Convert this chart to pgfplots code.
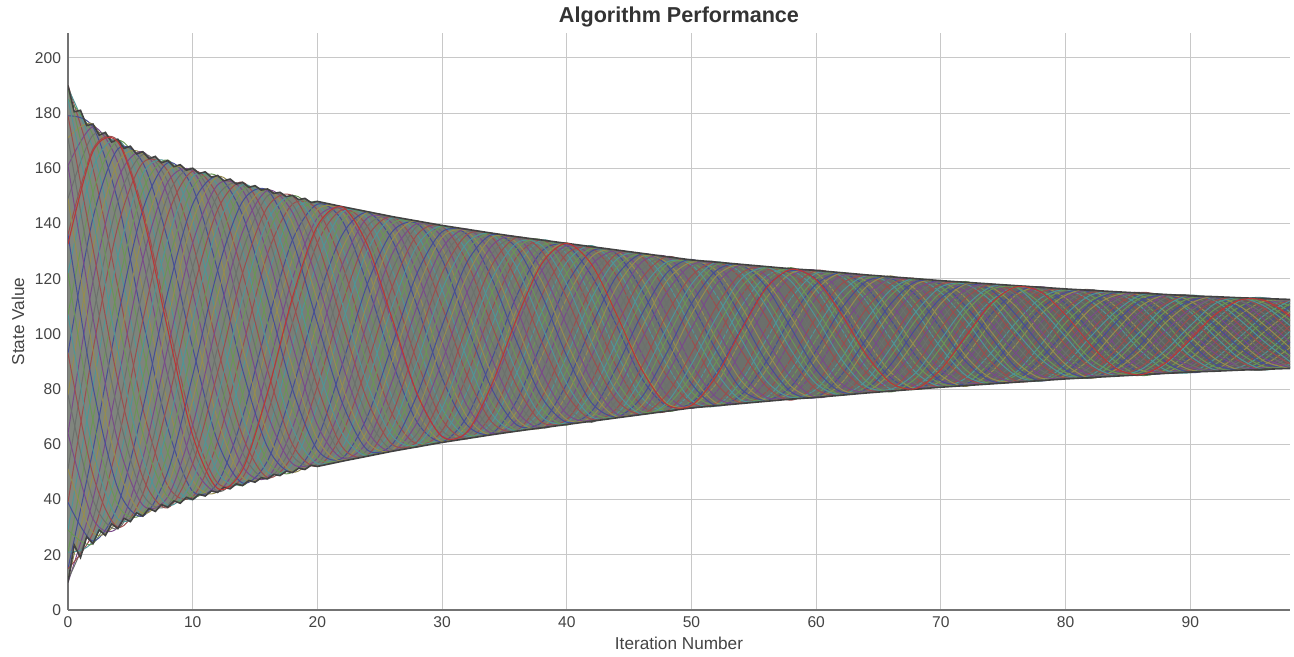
\documentclass[border=0pt]{standalone}
\usepackage{fontspec}
\setmainfont{Liberation Sans}
\usepackage{pgfplots}
\pgfplotsset{compat=1.18}
\usepackage{pgfplotstable}
\usepgfplotslibrary{fillbetween}

\definecolor{cA}{RGB}{155,78,78}
\definecolor{cB}{RGB}{78,150,150}
\definecolor{cC}{RGB}{105,150,85}
\definecolor{cD}{RGB}{70,78,150}
\definecolor{cE}{RGB}{150,140,78}
\definecolor{cF}{RGB}{122,75,138}
\definecolor{cG}{RGB}{108,112,108}
\definecolor{bandL}{RGB}{128,134,126}
\definecolor{bandR}{RGB}{92,94,92}
\definecolor{edge}{RGB}{66,66,66}
\definecolor{redline}{RGB}{185,55,55}
\definecolor{gridc}{RGB}{200,200,200}
\definecolor{txt}{RGB}{68,68,68}

\pgfplotstableread{
t y0 y1 y2 y3 y4 y5 y6 y7 y8 y9 y10 y11 y12 y13 y14 y15 y16 y17 y18 y19 y20 y21 y22 y23 y24 y25 y26 y27 y28 y29 y30 y31 y32 y33 y34 y35 y36 y37
0 190 189 185 179 171 161 149 136 122 107 93 78 64 51 39 29 21 15 11 10 11 15 21 29 39 51 64 78 93 107 122 136 149 161 171 179 185 189
2 160 167 172 175 176 175 172 167 160 151 142 131 119 106 94 81 69 58 49 40 33 28 25 24 25 28 33 40 49 58 69 81 94 106 119 131 142 151
4 117 128 139 148 156 162 167 170 170.5 170 167 162 156 148 139 128 117 106 94 83 72 61 52 44 38 33 30 29.5 30 33 38 44 52 61 72 83 94 106
6 73 84 95 105 116 127 136 145 152 158 162 165 166 165 162 158 152 145 136 127 116 105 95 84 73 64 55 48 42 38 35 34 35 38 42 48 55 64
8 45 50 57 66 75 85 95 105 115 125 134 143 150 155 159 162 163 162 159 155 150 143 134 125 115 105 95 85 75 66 57 50 45 41 38 37 38 41
10 41 40 41 43 47 53 59 67 76 85 95 105 115 124 133 141 147 153 157 159 160 159 157 153 147 141 133 124 115 105 95 85 76 67 59 53 47 43
12 61 55 50 46 43 43 43 46 50 55 61 69 77 86 95 105 114 123 131 139 145 150 154 157 157 157 154 150 145 139 131 123 114 105 95 86 77 69
14 95 87 78 70 63 57 52 48 46 45 46 48 52 57 63 70 78 87 95 105 113 122 130 137 143 148 152 154 155 154 152 148 143 137 130 122 113 105
16 129 121 113 104 96 87 79 71 64 59 54 50 48 47.5 48 50 54 59 64 71 79 87 96 104 113 121 129 136 141 146 150 152 152.5 152 150 146 141 136
18 147 144 140 134 127 120 112 104 96 88 80 73 66 60 56 53 50 50 50 53 56 60 66 73 80 88 96 104 112 120 127 134 140 144 147 150 150 150
20 145 147 148 147 145 142 138 133 126 119 112 104 96 88 81 74 67 62 58 55 53 52 53 55 58 62 67 74 81 88 96 104 112 119 126 133 138 142
22 125 131 136 141 144 145 146 145 144 141 136 131 125 119 111 104 96 89 81 75 69 64 59 56 55 54 55 56 59 64 69 75 81 89 96 104 111 119
24 96 104 111 118 124 130 135 139 142 144 144 144 142 139 135 130 124 118 111 104 96 89 82 76 70 65 61 58 56 56 56 58 61 65 70 76 82 89
26 71 77 83 90 96 104 110 117 123 129 134 137 140 142 142.5 142 140 137 134 129 123 117 110 104 96 90 83 77 71 66 63 60 58 57.5 58 60 63 66
28 60 61 64 68 72 78 84 90 97 103 110 116 122 128 132 136 139 140 141 140 139 136 132 128 122 116 110 103 97 90 84 78 72 68 64 61 60 59
30 65 63 61 61 61 63 65 69 73 78 84 90 97 103 110 116 122 127 131 135 137 139 139 139 137 135 131 127 122 116 110 103 97 90 84 78 73 69
32 85 79 74 70 67 64 63 62 63 64 67 70 74 79 85 91 97 103 109 115 121 126 130 133 136 137 138 137 136 133 130 126 121 115 109 103 97 91
34 109 103 97 91 85 80 75 71 68 65 64 63.5 64 65 68 71 75 80 85 91 97 103 109 115 120 125 129 132 135 136 136.5 136 135 132 129 125 120 115
36 128 124 119 114 109 103 97 91 86 81 76 72 69 67 65 65 65 67 69 72 76 81 86 91 97 103 109 114 119 124 128 131 133 135 135 135 133 131
38 134 134 132 130 127 123 119 114 108 103 97 92 86 81 77 73 70 68 66 66 66 68 70 73 77 81 86 92 97 103 108 114 119 123 127 130 132 134
40 126 129 131 132 133 132 131 129 126 122 118 113 108 103 97 92 87 82 78 74 71 69 68 67 68 69 71 74 78 82 87 92 97 103 108 113 118 122
42 108 113 117 121 125 128 130 131 132 131 130 128 125 121 117 113 108 103 97 92 87 83 79 75 72 70 69 68 69 70 72 75 79 83 87 92 97 103
44 88 93 97 103 107 112 117 121 124 127 129 130 130 130 129 127 124 121 117 112 107 103 97 93 88 83 79 76 73 71 70 70 70 71 73 76 79 83
46 74 77 80 84 88 93 98 102 107 112 116 120 123 126 128 129 129 129 128 126 123 120 116 112 107 102 98 93 88 84 80 77 74 72 71 71 71 72
48 72 72 72 74 75 78 81 85 89 93 98 102 107 111 115 119 122 125 126 128 128 128 126 125 122 119 115 111 107 102 98 93 89 85 81 78 75 74
50 82 79 76 75 74 73 74 75 76 79 82 85 89 93 98 102 107 111 115 118 121 124 125 126 127 126 125 124 121 118 115 111 107 102 98 93 89 85
52 98 94 90 86 82 79 77 75 74 74 74 75 77 79 82 86 90 94 98 102 106 110 114 118 121 123 125 126 126 126 125 123 121 118 114 110 106 102
54 114 110 106 102 98 94 90 86 83 80 78 76 75 75 75 76 78 80 83 86 90 94 98 102 106 110 114 117 120 122 124 125 125 125 124 122 120 117
56 123 121 119 117 113 110 106 102 98 94 90 87 83 81 79 77 76 76 76 77 79 81 83 87 90 94 98 102 106 110 113 117 119 121 123 124 124 124
58 122 123 124 123 122 121 119 116 113 109 106 102 98 94 91 87 84 81 79 78 77 76 77 78 79 81 84 87 91 94 98 102 106 109 113 116 119 121
60 113 116 118 120 122 123 123 123 122 120 118 116 113 109 106 102 98 94 91 87 84 82 80 78 77 77 77 78 80 82 84 87 91 94 98 102 106 109
62 98 102 105 109 112 115 118 120 121 122 122 122 121 120 118 115 112 109 105 102 98 95 91 88 85 82 80 79 78 78 78 79 80 82 85 88 91 95
64 86 88 91 95 98 102 105 109 112 114 117 119 120 121 121 121 120 119 117 114 112 109 105 102 98 95 91 88 86 83 81 80 79 79 79 80 81 83
66 80 80 82 84 86 89 92 95 98 102 105 108 111 114 116 118 120 120 121 120 120 118 116 114 111 108 105 102 98 95 92 89 86 84 82 80 80 79
68 82 81 80 80 80 81 82 84 86 89 92 95 98 102 105 108 111 114 116 118 119 120 120 120 119 118 116 114 111 108 105 102 98 95 92 89 86 84
70 92 89 87 85 83 82 81 81 81 82 83 85 87 89 92 95 98 102 105 108 111 113 115 117 118 119 119 119 118 117 115 113 111 108 105 102 98 95
72 105 102 98 95 92 90 87 85 84 82 82 81 82 82 84 85 87 90 92 95 98 102 105 108 110 113 115 116 118 118 119 118 118 116 115 113 110 108
74 114 112 110 107 104 101 99 96 93 90 88 86 84 83 82 82 82 83 84 86 88 90 93 96 99 101 104 107 110 112 114 116 117 118 118 118 117 116
76 117.5 117 117 115 114 112 110 107 104 101 99 96 93 90 88 86 85 83 83 82.5 83 83 85 86 88 90 93 96 99 101 104 107 110 112 114 115 117 117
78 113 115 116 117 117 117 116 115 113 111 109 107 104 101 99 96 93 91 89 87 85 84 83 83 83 84 85 87 89 91 93 96 99 101 104 107 109 111
80 104 107 109 111 113 114 115 116 116 116 115 114 113 111 109 107 104 101 99 96 93 91 89 87 86 85 84 84 84 85 86 87 89 91 93 96 99 101
82 94 96 99 101 104 106 109 111 112 114 115 116 116 116 115 114 112 111 109 106 104 101 99 96 94 91 89 88 86 85 84 84 84 85 86 88 89 91
84 87 88 90 92 94 96 99 101 104 106 108 110 112 113 114 115 115 115 114 113 112 110 108 106 104 101 99 96 94 92 90 88 87 86 85 85 85 86
86 85 85 85 86 87 88 90 92 94 96 99 101 104 106 108 110 112 113 114 115 115 115 114 113 112 110 108 106 104 101 99 96 94 92 90 88 87 86
88 90 89 87 86 86 86 86 86 87 89 90 92 94 96 99 101 104 106 108 110 111 113 114 114 114 114 114 113 111 110 108 106 104 101 99 96 94 92
90 99 97 94 92 91 89 88 87 86 86 86 87 88 89 91 92 94 97 99 101 103 106 108 109 111 112 113 114 114 114 113 112 111 109 108 106 103 101
92 107 105 103 101 99 97 95 93 91 89 88 87 87 86.5 87 87 88 89 91 93 95 97 99 101 103 105 107 109 111 112 113 113 113.5 113 113 112 111 109
94 112 112 110 109 107 105 103 101 99 97 95 93 91 90 88 88 87 87 87 88 88 90 91 93 95 97 99 101 103 105 107 109 110 112 112 113 113 113
96 112 113 113 113 112 111 110 109 107 105 103 101 99 97 95 93 91 90 89 88 87 87 87 88 89 90 91 93 95 97 99 101 103 105 107 109 110 111
98 107 108 110 111 112 112 112.5 112 112 111 110 108 107 105 103 101 99 97 95 93 92 90 89 88 88 87.5 88 88 89 90 92 93 95 97 99 101 103 105
}\lines

\pgfplotstableread{
t u l
0 190 10
0.5 180.5 23.5
1 181 19
1.5 175.5 26.5
2 176 24
2.5 172 29
3 173 27
3.5 169.5 31.2
4 170.5 29.5
4.5 167.2 33.2
5 168 32
5.5 165.2 35.2
6 166 34
6.5 163.5 36.8
7 164.3 35.7
7.5 162 38.2
8 162.8 37.2
8.5 160.6 39.5
9 161.3 38.7
9.5 159.3 40.8
10 160 40
10.5 158.1 41.9
11 158.7 41.3
11.5 156.8 43.1
12 157.4 42.6
12.5 155.5 44.4
13 156.1 43.9
13.5 154.3 45.7
14 154.9 45.1
14.5 153.1 46.9
15 153.7 46.3
15.5 152.1 47.9
16 152.5 47.5
16.5 150.9 49.1
17 151.3 48.7
17.5 149.75 50.25
18 150.2 49.8
18.5 148.65 51.35
19 149.1 50.9
19.5 147.55 52.45
20 148 52
22 146.1 53.9
24 144.3 55.7
26 142.5 57.5
28 140.9 59.1
30 139.3 60.7
32 137.9 62.1
34 136.5 63.5
36 135.2 64.8
38 134 66
40 132.8 67.2
42 131.6 68.4
44 130.4 69.6
46 129.2 70.8
48 128 72
50 126.8 73.2
52 126 74
54 125.2 74.8
56 124.4 75.6
58 123.6 76.4
60 123 77
62 122.2 77.8
64 121.4 78.6
66 120.7 79.3
68 120 80
70 119.3 80.7
72 118.7 81.3
74 118.1 81.9
76 117.5 82.5
78 116.9 83.1
80 116.3 83.7
82 115.8 84.2
84 115.3 84.7
86 114.8 85.2
88 114.3 85.7
90 113.8 86.2
92 113.5 86.5
94 113.1 86.9
96 112.8 87.2
98 112.5 87.5
}\env

\pgfplotstableread{
t y
0 132.5
2 166.1
4 169.5
6 143.1
8 101.6
10 63.2
12 44.0
14 50.9
16 78.6
18 113.2
20 139.1
22 146.0
24 132.3
26 105.5
28 78.3
30 62.8
32 64.5
34 81.8
36 105.7
38 125.5
40 132.8
42 125.1
44 107.0
46 87.2
48 74.5
50 74.1
52 84.8
54 101.5
56 116.6
58 123.4
60 119.6
62 107.3
64 92.6
66 82.2
68 80.2
70 87.1
72 99.2
74 110.9
76 117.0
78 115.2
80 106.9
82 96.1
84 87.7
86 85.2
88 89.4
90 98.0
92 107.0
94 112.3
96 112.1
98 106.4
}\redtab

\begin{document}
\begin{tikzpicture}
\begin{axis}[
  width=611pt, height=288.5pt, scale only axis,
  xmin=0, xmax=98, ymin=0, ymax=209,
  xtick={0,10,...,90}, ytick={0,20,...,200},
  grid=major, grid style={gridc, line width=0.5pt},
  axis x line=bottom, axis y line=left,
  axis line style={-, black!55, line width=0.6pt},
  major tick length=0pt,
  tick label style={font=\fontsize{7.8}{9}\selectfont, text=txt},
  /pgf/number format/assume math mode=true,
  xlabel={Iteration Number}, ylabel={State Value},
  label style={font=\fontsize{8.6}{10}\selectfont, text=txt},
  xlabel style={at={([yshift=-16.5pt]axis description cs:0.5,0)}, anchor=center},
  ylabel style={at={([xshift=-25pt]axis description cs:0,0.5)}, anchor=center},
  title={Algorithm Performance},
  title style={font=\bfseries\fontsize{10.8}{13}\selectfont, text=black!80, at={([yshift=2pt]axis description cs:0.5,1)}, anchor=center, inner sep=0pt},
  cycle list={{cA},{cB},{cC},{cD},{cE},{cF},{cG}},
]
\addplot[draw=none, name path=U, forget plot] table[x=t,y=u]{\env};
\addplot[draw=none, name path=L, forget plot] table[x=t,y=l]{\env};
\addplot[left color=bandL, right color=bandR, draw=none, forget plot] fill between[of=U and L];
\pgfplotsinvokeforeach{0,...,37}{
  \addplot+[smooth, no markers, line width=0.5pt] table[x=t,y=y#1]{\lines};
}
\addplot[edge, line width=0.8pt, forget plot] table[x=t,y=u]{\env};
\addplot[edge, line width=0.8pt, forget plot] table[x=t,y=l]{\env};
\addplot[redline, line width=0.55pt, smooth, forget plot] table[x=t,y=y]{\redtab};
\end{axis}
\path (current axis.south west) ++(-34pt,-22.5pt) rectangle ([xshift=2pt,yshift=16.5pt]current axis.north east);
\end{tikzpicture}
\end{document}
